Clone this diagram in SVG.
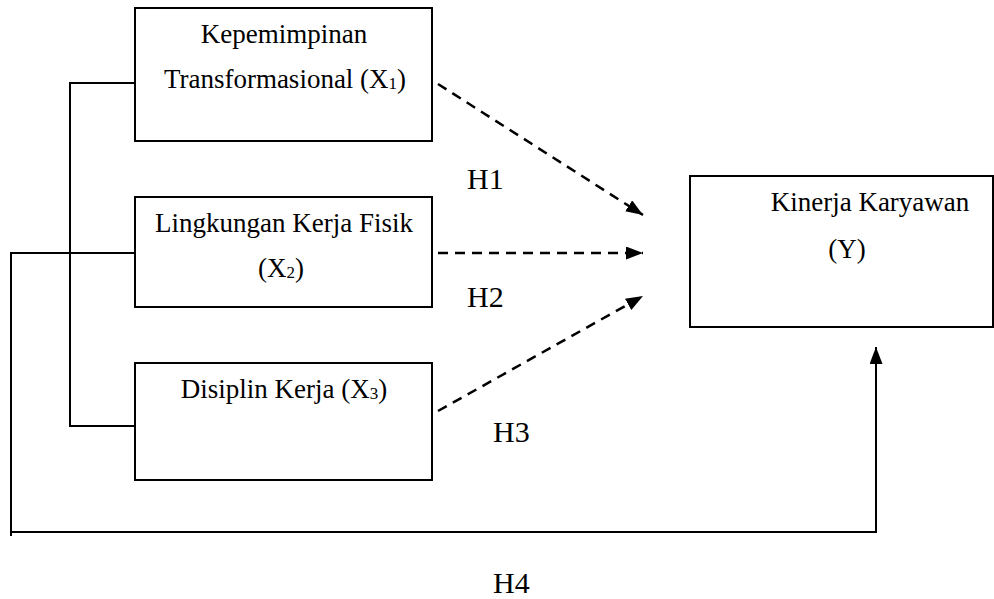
<svg xmlns="http://www.w3.org/2000/svg" width="994" height="599" viewBox="0 0 994 599">
<style>
.box{fill:#fff;stroke:#000;stroke-width:2}
.ln{fill:none;stroke:#000;stroke-width:2}
.dash{fill:none;stroke:#000;stroke-width:2.5;stroke-dasharray:10 7}
.t{font-family:"Liberation Serif","Times New Roman",serif;font-size:27px;fill:#000;text-anchor:middle}
.h{font-family:"Liberation Serif","Times New Roman",serif;font-size:30px;fill:#000}
.sub{font-size:17px}
</style>
<defs>
<marker id="arr" viewBox="0 0 17 13" refX="17" refY="6.5" markerWidth="17" markerHeight="13" markerUnits="userSpaceOnUse" orient="auto">
<path d="M0,0 L17,6.5 L0,13 Z" fill="#000"/>
</marker>
</defs>
<g id="x1">
<rect class="box" x="135" y="8" width="297" height="133"/>
<text class="t" x="284" y="43">Kepemimpinan</text>
<text class="t" x="285" y="88">Transformasional (X<tspan class="sub" dy="1">1</tspan><tspan dy="-1">)</tspan></text>
</g>
<g id="x2">
<rect class="box" x="135" y="197" width="297" height="110"/>
<text class="t" x="284" y="232">Lingkungan Kerja Fisik</text>
<text class="t" x="281" y="277">(X<tspan class="sub" dy="1">2</tspan><tspan dy="-1">)</tspan></text>
</g>
<g id="x3">
<rect class="box" x="135" y="363" width="297" height="117"/>
<text class="t" x="284" y="398">Disiplin Kerja (X<tspan class="sub" dy="1">3</tspan><tspan dy="-1">)</tspan></text>
</g>
<g id="y">
<rect class="box" x="690" y="176" width="303" height="151"/>
<text class="t" x="870" y="211">Kinerja Karyawan</text>
<text class="t" x="847" y="258">(Y)</text>
</g>
<g id="connectors">
<path class="ln" d="M135,83 H70 V426 H135"/>
<path class="ln" d="M135,253 H11 V536"/>
<path class="ln" d="M11,532 H876 V347" marker-end="url(#arr)"/>
<path class="dash" d="M438,84 L643,215" marker-end="url(#arr)"/>
<path class="dash" d="M438,253 L643,253" marker-end="url(#arr)"/>
<path class="dash" d="M438,411 L643,296" marker-end="url(#arr)"/>
</g>
<g id="labels">
<text class="h" x="467" y="189">H1</text>
<text class="h" x="467" y="307">H2</text>
<text class="h" x="493" y="442">H3</text>
<text class="h" x="493" y="593">H4</text>
</g>
</svg>
